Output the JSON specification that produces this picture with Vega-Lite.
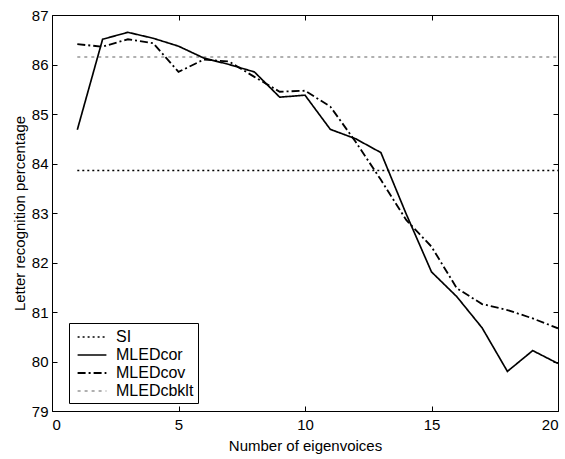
{
  "$schema": "https://vega.github.io/schema/vega-lite/v6.json",
  "width": 506,
  "height": 396,
  "autosize": {"type": "none"},
  "padding": {"left": 52, "top": 15, "right": 7, "bottom": 48},
  "background": "white",
  "config": {
    "view": {"stroke": "black", "strokeWidth": 1},
    "font": "Liberation Sans",
    "axis": {"grid": false, "domain": false, "tickColor": "black", "labelColor": "black", "titleColor": "black", "labelFontSize": 15, "titleFontSize": 15, "titleFontWeight": "normal", "tickSize": 5, "offset": -5}
  },
  "data": {"values": [
    {"series": "SI", "x": 1, "y": 83.86}, {"series": "SI", "x": 20, "y": 83.86},
    {"series": "MLEDcbklt", "x": 1, "y": 86.15}, {"series": "MLEDcbklt", "x": 20, "y": 86.15},
    {"series": "MLEDcor", "x": 1, "y": 84.68}, {"series": "MLEDcor", "x": 2, "y": 86.51}, {"series": "MLEDcor", "x": 3, "y": 86.65}, {"series": "MLEDcor", "x": 4, "y": 86.53}, {"series": "MLEDcor", "x": 5, "y": 86.37}, {"series": "MLEDcor", "x": 6, "y": 86.13}, {"series": "MLEDcor", "x": 7, "y": 86.0}, {"series": "MLEDcor", "x": 8, "y": 85.85}, {"series": "MLEDcor", "x": 9, "y": 85.34}, {"series": "MLEDcor", "x": 10, "y": 85.38}, {"series": "MLEDcor", "x": 11, "y": 84.69}, {"series": "MLEDcor", "x": 12, "y": 84.5}, {"series": "MLEDcor", "x": 13, "y": 84.22}, {"series": "MLEDcor", "x": 14, "y": 82.98}, {"series": "MLEDcor", "x": 15, "y": 81.81}, {"series": "MLEDcor", "x": 16, "y": 81.31}, {"series": "MLEDcor", "x": 17, "y": 80.68}, {"series": "MLEDcor", "x": 18, "y": 79.8}, {"series": "MLEDcor", "x": 19, "y": 80.22}, {"series": "MLEDcor", "x": 20, "y": 79.96},
    {"series": "MLEDcov", "x": 1, "y": 86.41}, {"series": "MLEDcov", "x": 2, "y": 86.36}, {"series": "MLEDcov", "x": 3, "y": 86.51}, {"series": "MLEDcov", "x": 4, "y": 86.43}, {"series": "MLEDcov", "x": 5, "y": 85.85}, {"series": "MLEDcov", "x": 6, "y": 86.1}, {"series": "MLEDcov", "x": 7, "y": 86.06}, {"series": "MLEDcov", "x": 8, "y": 85.75}, {"series": "MLEDcov", "x": 9, "y": 85.45}, {"series": "MLEDcov", "x": 10, "y": 85.47}, {"series": "MLEDcov", "x": 11, "y": 85.15}, {"series": "MLEDcov", "x": 12, "y": 84.44}, {"series": "MLEDcov", "x": 13, "y": 83.67}, {"series": "MLEDcov", "x": 14, "y": 82.86}, {"series": "MLEDcov", "x": 15, "y": 82.32}, {"series": "MLEDcov", "x": 16, "y": 81.48}, {"series": "MLEDcov", "x": 17, "y": 81.16}, {"series": "MLEDcov", "x": 18, "y": 81.04}, {"series": "MLEDcov", "x": 19, "y": 80.87}, {"series": "MLEDcov", "x": 20, "y": 80.67}
  ]},
  "layer": [
    {
      "mark": {"type": "line", "clip": true},
      "encoding": {
        "x": {"field": "x", "type": "quantitative", "scale": {"domain": [0, 20], "nice": false}, "axis": {"values": [0, 5, 10, 15, 20], "title": "Number of eigenvoices", "labelPadding": 6, "titlePadding": 6}},
        "y": {"field": "y", "type": "quantitative", "scale": {"domain": [79, 87], "nice": false, "zero": false}, "axis": {"values": [79, 80, 81, 82, 83, 84, 85, 86, 87], "title": "Letter recognition percentage", "labelPadding": 4, "titlePadding": 4}},
        "color": {"field": "series", "type": "nominal", "scale": {"domain": ["SI", "MLEDcor", "MLEDcov", "MLEDcbklt"], "range": ["black", "black", "black", "#b0b0b0"]}, "legend": {"title": null, "orient": "none", "legendX": 17, "legendY": 308, "fillColor": "white", "strokeColor": "black", "padding": 4, "symbolType": "M-0.6,0H2.6", "symbolSize": 324, "labelFontSize": 16, "labelColor": "black", "labelOffset": 23, "rowPadding": 0}},
        "strokeDash": {"field": "series", "type": "nominal", "scale": {"domain": ["SI", "MLEDcor", "MLEDcov", "MLEDcbklt"], "range": [[2, 3], [1, 0], [8, 3, 2, 3], [3, 4]]}, "legend": {"title": null}},
        "strokeWidth": {"field": "series", "type": "nominal", "scale": {"domain": ["SI", "MLEDcor", "MLEDcov", "MLEDcbklt"], "range": [1.5, 2, 2, 1.2]}, "legend": {"title": null}}
      }
    },
    {
      "mark": {"type": "line", "opacity": 0},
      "encoding": {
        "x": {"field": "x", "type": "quantitative", "axis": {"orient": "top", "values": [0, 5, 10, 15, 20], "labels": false, "title": null}},
        "y": {"field": "y", "type": "quantitative", "axis": {"orient": "right", "values": [79, 80, 81, 82, 83, 84, 85, 86, 87], "labels": false, "title": null}},
        "detail": {"field": "series"}
      }
    }
  ],
  "resolve": {"axis": {"x": "independent", "y": "independent"}}
}
